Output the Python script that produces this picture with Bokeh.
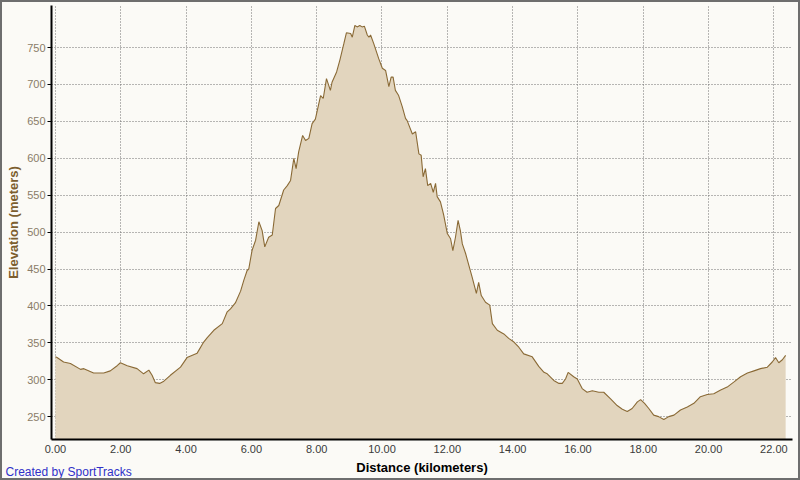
from bokeh.plotting import figure
from bokeh.models import Range1d, FixedTicker, PrintfTickFormatter, Title
from bokeh.embed import file_html
from bokeh.resources import INLINE

# Distance (km) and elevation (m)
distance_km = [
    0.00, 0.05, 0.25, 0.46, 0.77, 0.87, 1.17, 1.48, 1.68, 1.89, 1.99, 2.20, 2.50, 2.70, 2.86,
    2.96, 3.06, 3.19, 3.32, 3.52, 3.83, 4.03, 4.34, 4.54, 4.65, 4.85, 5.11, 5.26, 5.36, 5.51,
    5.67, 5.77, 5.87, 5.92, 6.02, 6.13, 6.23, 6.33, 6.41, 6.53, 6.64, 6.74, 6.84, 6.99, 7.10,
    7.20, 7.30, 7.37, 7.45, 7.57, 7.66, 7.76, 7.86, 7.96, 8.12, 8.20, 8.30, 8.42, 8.47, 8.61,
    8.71, 8.83, 8.91, 9.04, 9.09, 9.17, 9.24, 9.32, 9.39, 9.46, 9.55, 9.60, 9.65, 9.75, 9.90,
    10.01, 10.11, 10.21, 10.28, 10.34, 10.41, 10.51, 10.62, 10.72, 10.77, 10.93, 11.03, 11.13,
    11.20, 11.26, 11.33, 11.40, 11.49, 11.57, 11.64, 11.69, 11.79, 11.89, 12.00, 12.10, 12.17,
    12.25, 12.33, 12.40, 12.46, 12.56, 12.66, 12.76, 12.89, 12.96, 13.04, 13.17, 13.30, 13.38,
    13.53, 13.73, 13.88, 14.04, 14.19, 14.34, 14.60, 14.80, 14.96, 15.06, 15.26, 15.42, 15.52,
    15.62, 15.70, 15.87, 15.98, 16.13, 16.28, 16.44, 16.64, 16.79, 17.00, 17.20, 17.36, 17.51,
    17.66, 17.82, 17.92, 18.04, 18.17, 18.32, 18.47, 18.63, 18.78, 18.94, 19.14, 19.35, 19.55,
    19.75, 19.96, 20.16, 20.37, 20.57, 20.78, 20.98, 21.19, 21.39, 21.59, 21.80, 21.95, 22.05,
    22.15, 22.26, 22.36,
]
elevation_m = [
    331, 330, 324, 322, 314, 315, 309, 309, 312, 319, 323, 319, 315, 308, 313,
    306, 296, 295, 298, 306, 317, 330, 336, 351, 357, 367, 376, 392, 396, 404,
    420, 435, 448, 450, 475, 489, 514, 502, 480, 493, 496, 532, 536, 557, 563,
    570, 600, 586, 609, 631, 624, 627, 647, 653, 685, 681, 708, 692, 703, 717,
    733, 755, 770, 769, 764, 780, 778, 780, 778, 779, 767, 764, 767, 755, 735,
    722, 719, 697, 710, 710, 692, 685, 670, 654, 651, 633, 636, 606,
    604, 575, 586, 563, 566, 554, 566, 548, 541, 523, 498, 491, 475,
    493, 516, 502, 484, 471, 455, 439, 417, 432, 414, 405, 401, 376,
    367, 362, 356, 351, 344, 335, 331, 318, 310, 308, 299, 295, 295,
    301, 310, 304, 301, 288, 283, 285, 283, 283, 274, 265, 260, 257,
    261, 270, 273, 268, 261, 252, 250, 246, 250, 252, 259, 263, 268,
    277, 280, 281, 286, 290, 297, 304, 309, 312, 315, 317, 324, 330,
    323, 327, 333,
]
x_ticks = [0, 2, 4, 6, 8, 10, 12, 14, 16, 18, 20, 22]
y_ticks = [250, 300, 350, 400, 450, 500, 550, 600, 650, 700, 750]

BG = "#FBFAF6"
FONT = "Liberation Sans"

p = figure(
    width=800, height=480, output_backend="svg", toolbar_location=None,
    x_range=Range1d(-0.12, 22.57), y_range=Range1d(219, 807),
    background_fill_color=BG, border_fill_color=BG,
    min_border_left=51, min_border_right=8, min_border_top=5, min_border_bottom=41,
)
p.outline_line_color = None
# thin grey frame round the whole picture, drawn over the canvas
p.stylesheets = [
    ":host { position: relative; }"
    ":host::after { content: ''; position: absolute; left: 0; top: 0; right: 0; bottom: 0;"
    " border: 2px solid #6E6E6E; box-sizing: border-box; pointer-events: none; z-index: 100; }"
]

p.varea(x=distance_km, y1=0, y2=elevation_m, fill_color="#E2D5BE")
p.line(x=distance_km, y=elevation_m, line_color="#8A6A36", line_width=1.1)

# grids
for g in (p.xgrid, p.ygrid):
    g.grid_line_color = "#707070"
    g.grid_line_dash = "1 2"
    g.grid_line_width = 1
p.xgrid.ticker = FixedTicker(ticks=x_ticks)
p.ygrid.ticker = FixedTicker(ticks=y_ticks)

# x axis
xa = p.xaxis[0]
xa.ticker = FixedTicker(ticks=x_ticks)
xa.formatter = PrintfTickFormatter(format="%.2f")
xa.axis_label = "Distance (kilometers)"
xa.axis_label_text_font = FONT
xa.axis_label_text_font_style = "bold"
xa.axis_label_text_font_size = "13px"
xa.axis_label_text_color = "#000000"
xa.axis_label_standoff = 4
xa.major_label_text_font = FONT
xa.major_label_text_font_size = "11px"
xa.major_label_text_color = "#3A3A3A"
xa.major_label_standoff = 5
xa.major_tick_out = 0
xa.major_tick_in = 0
xa.minor_tick_out = 0
xa.minor_tick_in = 0
xa.axis_line_color = "#000000"
xa.axis_line_width = 2

# y axis
ya = p.yaxis[0]
ya.ticker = FixedTicker(ticks=y_ticks)
ya.axis_label = "Elevation (meters)"
ya.axis_label_text_font = FONT
ya.axis_label_text_font_style = "bold"
ya.axis_label_text_font_size = "13px"
ya.axis_label_text_color = "#7C5E2E"
ya.axis_label_standoff = 3
ya.major_label_text_font = FONT
ya.major_label_text_font_size = "11px"
ya.major_label_text_color = "#8A7C68"
ya.major_label_standoff = 2
ya.major_tick_out = 4
ya.major_tick_in = 0
ya.minor_tick_out = 0
ya.minor_tick_in = 0
ya.major_tick_line_color = "#000000"
ya.axis_line_color = "#000000"
ya.axis_line_width = 2

credit = Title(
    text="Created by SportTracks", align="left", vertical_align="top",
    offset=-46, standoff=-26,
    text_font=FONT, text_font_size="12px", text_font_style="normal",
    text_color="#3030C8",
)
p.add_layout(credit, "below")

open("out.html", "w").write(file_html(p, INLINE))
